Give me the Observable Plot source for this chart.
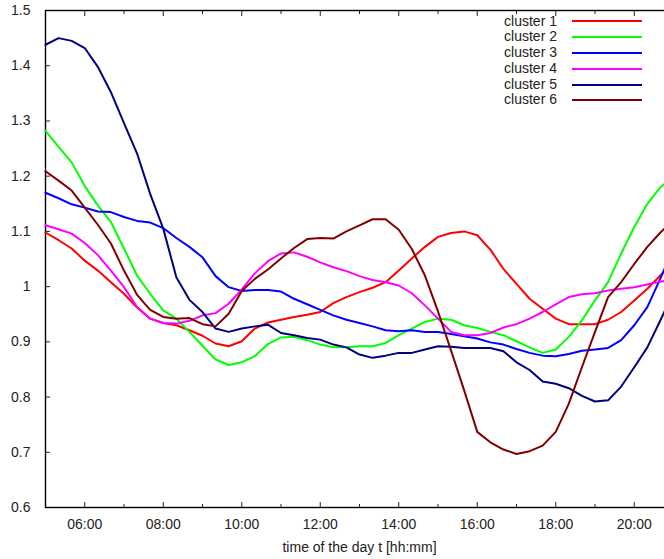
<!DOCTYPE html>
<html>
<head>
<meta charset="utf-8">
<script src="https://cdn.jsdelivr.net/npm/d3@7"></script>
<script src="https://cdn.jsdelivr.net/npm/@observablehq/plot@0.6"></script>
<style>
  html, body { margin: 0; padding: 0; background: #fff; }
  #wrap { position: relative; width: 664px; height: 559px; overflow: hidden; font-family: "Liberation Sans", Arial, Helvetica, sans-serif; }
  #legend { position: absolute; left: 480px; top: 13.5px; display: grid; grid-template-columns: 77px 70px; column-gap: 15px; grid-auto-rows: 15.8px; align-items: center; font-size: 14px; color: #222; }
  #legend .lab { text-align: right; line-height: 15.8px; }
  #legend .sw { height: 2px; }
</style>
</head>
<body>
<div id="wrap"><div id="chart"></div><div id="legend"></div></div>
<script>
const times = ["05:00","05:20","05:40","06:00","06:20","06:40","07:00","07:20","07:40","08:00","08:20","08:40",
  "09:00","09:20","09:40","10:00","10:20","10:40","11:00","11:20","11:40","12:00","12:20","12:40",
  "13:00","13:20","13:40","14:00","14:20","14:40","15:00","15:20","15:40","16:00","16:20","16:40",
  "17:00","17:20","17:40","18:00","18:20","18:40","19:00","19:20","19:40","20:00","20:20","20:40","21:00"];

const seriesNames = ["cluster 1","cluster 2","cluster 3","cluster 4","cluster 5","cluster 6"];
const seriesColors = ["#ff0000","#00ff00","#0000ff","#ff00ff","#000080","#800000"];

const cluster1 = [1.098,1.084,1.069,1.047,1.029,1.008,0.987,0.962,0.942,0.934,0.930,0.921,
  0.911,0.897,0.892,0.901,0.924,0.935,0.940,0.945,0.949,0.954,0.970,0.981,
  0.990,0.998,1.008,1.029,1.051,1.072,1.090,1.097,1.100,1.093,1.067,1.032,
  1.005,0.978,0.960,0.942,0.932,0.932,0.932,0.940,0.954,0.975,0.996,1.020,1.045];
const cluster2 = [1.282,1.253,1.225,1.182,1.147,1.117,1.069,1.020,0.987,0.957,0.942,0.918,
  0.893,0.868,0.858,0.863,0.874,0.896,0.908,0.909,0.903,0.895,0.890,0.890,
  0.892,0.892,0.898,0.912,0.924,0.936,0.942,0.940,0.930,0.925,0.918,0.912,
  0.901,0.890,0.880,0.886,0.909,0.939,0.975,1.008,1.060,1.108,1.150,1.180,1.200];
const cluster3 = [1.170,1.160,1.149,1.143,1.136,1.135,1.126,1.119,1.116,1.106,1.088,1.072,
  1.053,1.019,0.999,0.992,0.994,0.994,0.991,0.978,0.968,0.958,0.948,0.940,
  0.934,0.928,0.921,0.919,0.921,0.918,0.918,0.914,0.910,0.906,0.899,0.895,
  0.887,0.880,0.875,0.874,0.878,0.884,0.886,0.889,0.903,0.930,0.963,1.015,1.070];
const cluster4 = [1.111,1.104,1.096,1.079,1.057,1.029,0.999,0.963,0.942,0.934,0.933,0.938,
  0.948,0.952,0.969,0.995,1.024,1.046,1.060,1.062,1.054,1.044,1.035,1.028,
  1.019,1.012,1.008,1.002,0.988,0.966,0.942,0.918,0.912,0.912,0.916,0.926,
  0.932,0.942,0.954,0.968,0.981,0.986,0.988,0.993,0.996,0.999,1.004,1.009,1.013];
const cluster5 = [1.438,1.450,1.445,1.432,1.398,1.352,1.296,1.241,1.168,1.105,1.017,0.976,
  0.954,0.924,0.918,0.924,0.928,0.931,0.916,0.912,0.907,0.904,0.895,0.890,
  0.877,0.871,0.875,0.880,0.880,0.886,0.892,0.891,0.889,0.889,0.889,0.883,
  0.863,0.849,0.828,0.824,0.816,0.802,0.792,0.794,0.819,0.854,0.890,0.939,0.990];
const cluster6 = [1.209,1.192,1.174,1.143,1.112,1.078,1.029,0.985,0.958,0.945,0.942,0.943,
  0.932,0.928,0.951,0.992,1.014,1.031,1.051,1.070,1.086,1.088,1.087,1.100,
  1.111,1.122,1.122,1.103,1.068,1.020,0.955,0.884,0.812,0.737,0.718,0.705,
  0.697,0.702,0.712,0.737,0.788,0.854,0.918,0.981,1.008,1.041,1.072,1.098,1.120];

const xMajor = [6, 8, 10, 12, 14, 16, 18, 20];
const xMinor = [5, 7, 9, 11, 13, 15, 17, 19, 21];
const yTicks = [0.6, 0.7, 0.8, 0.9, 1.0, 1.1, 1.2, 1.3, 1.4, 1.5];

const toHours = s => { const [h, m] = s.split(":").map(Number); return h + m / 60; };
const allSeries = [cluster1, cluster2, cluster3, cluster4, cluster5, cluster6];
const rows = [];
allSeries.forEach((vals, k) => vals.forEach((v, i) => rows.push({t: toHours(times[i]), v, s: seriesNames[k]})));

const fmtHour = d => String(d).padStart(2, "0") + ":00";

const chart = Plot.plot({
  width: 664,
  height: 559,
  marginLeft: 45,
  marginRight: -9,
  marginTop: 10,
  marginBottom: 52,
  style: {fontFamily: '"Liberation Sans", Arial, Helvetica, sans-serif', fontSize: "14px", color: "#222", background: "#fff", overflow: "hidden"},
  x: {domain: [5, 21]},
  y: {domain: [0.6, 1.5]},
  color: {domain: seriesNames, range: seriesColors},
  marks: [
    Plot.axisX(xMajor, {anchor: "bottom", tickSize: -5, tickPadding: 17, tickFormat: fmtHour, strokeWidth: 1,
      label: "time of the day t [hh:mm]", labelAnchor: "center", labelArrow: "none", labelOffset: 44}),
    Plot.axisX(xMinor, {anchor: "bottom", tickSize: -3, tickFormat: () => "", label: null, strokeWidth: 1}),
    Plot.axisX(xMajor, {anchor: "top", tickSize: -5, tickFormat: () => "", label: null, strokeWidth: 1}),
    Plot.axisX(xMinor, {anchor: "top", tickSize: -3, tickFormat: () => "", label: null, strokeWidth: 1}),
    Plot.axisY(yTicks, {anchor: "left", tickSize: -5, tickPadding: 20, tickFormat: d => String(+d.toFixed(1)), label: null, strokeWidth: 1}),
    Plot.frame({stroke: "#000", strokeWidth: 1.4}),
    Plot.line(rows, {x: "t", y: "v", z: "s", stroke: "s", strokeWidth: 2, strokeLinejoin: "round"})
  ]
});
document.getElementById("chart").appendChild(chart);

const legend = document.getElementById("legend");
seriesNames.forEach((name, k) => {
  const lab = document.createElement("div");
  lab.className = "lab";
  lab.textContent = name;
  const sw = document.createElement("div");
  sw.className = "sw";
  sw.style.background = seriesColors[k];
  legend.appendChild(lab);
  legend.appendChild(sw);
});
</script>
</body>
</html>
